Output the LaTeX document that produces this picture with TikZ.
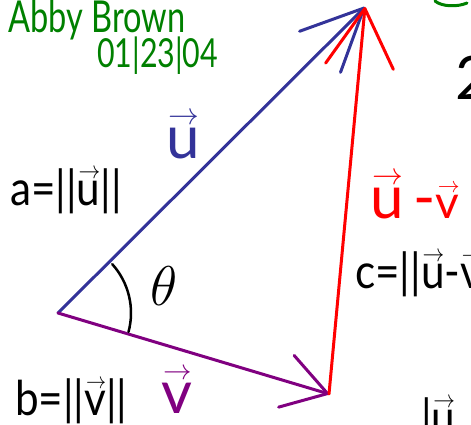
\RequirePackage{fix-cm}
\documentclass[tikz,border=0pt]{standalone}
\usepackage{fontspec}
\setmainfont{Lato}
\usepackage{graphicx}
\usetikzlibrary{arrows.meta}

\newlength{\vecwd}
\newcommand{\vecarrow}[1]{\settowidth{\vecwd}{#1}\makebox[0pt][l]{\hspace{0.04em}\raisebox{0.56em}{\resizebox{0.92\vecwd}{!}{$\rightarrow$}}}#1}

\begin{document}
\begin{tikzpicture}[x=1pt, y=1pt,
    hand/.style={inner sep=0pt, anchor=base west},
    formula/.style={hand, font=\fontsize{48}{48}\selectfont, xscale=0.88},
    bigvec/.style={hand, font=\fontsize{60}{60}\selectfont},
    vecline/.style={line width=3pt, line cap=round, line join=round}]
    % Palette
    \definecolor{uBlue}{HTML}{333399}
    \definecolor{vPurple}{HTML}{800080}
    \definecolor{diffRed}{HTML}{FF0000}
    \definecolor{signGreen}{HTML}{008000}

    \useasboundingbox (0,0) rectangle (471,424);
    \clip (0,0) rectangle (471,424);

    % --- Signature ---
    \node[hand, text=signGreen, font=\fontsize{44}{44}\selectfont, xscale=0.74] (name) at (8,391) {Abby Brown};
    \node[hand, text=signGreen, font=\fontsize{40}{40}\selectfont, xscale=0.76] (date) at (97,356) {01|23|04};
    \draw[vecline, signGreen] (435,423) .. controls (442,417) and (458,417) .. (467,421);

    % --- Triangle ---
    \coordinate (O) at (58,111);
    \coordinate (U) at (365,417);
    \coordinate (V) at (329,30);

    \draw[vecline, uBlue, -{Straight Barb[length=62pt, width=58pt, round]}] (O) -- (U);
    \draw[vecline, vPurple, -{Straight Barb[length=43pt, width=54pt, round]}] (O) -- (V);
    \draw[vecline, diffRed, -{Straight Barb[length=58pt, width=68pt, round]}] (V) -- (U);

    % angle
    \draw[line width=2.5pt, line cap=round] ([shift={(-15:73)}]O) arc[start angle=-15, end angle=42, radius=73];
    \node[font=\fontsize{56}{56}\selectfont] (theta) at (164,138) {$\theta$};

    % --- Labels ---
    \node[bigvec, text=uBlue] (uLabel) at (166,266) {\vecarrow{u}};
    \node[bigvec, text=vPurple] (vLabel) at (161,11) {\vecarrow{v}};
    \node[bigvec, text=diffRed] (diffLabel) at (370,206) {\vecarrow{u}\,-{\fontsize{46}{46}\selectfont\vecarrow{v}}};

    \node[formula] (aLabel) at (10,219) {a=||\vecarrow{u}||};
    \node[formula] (bLabel) at (15,9) {b=||\vecarrow{v}||};
    \node[formula] (cLabel) at (355,136) {c=||\vecarrow{u}-\vecarrow{v}||};
    \node[formula] (normLabel) at (421,-10) {|\vecarrow{u}};
    \node[bigvec] (two) at (455,324) {2};

\end{tikzpicture}
\end{document}
